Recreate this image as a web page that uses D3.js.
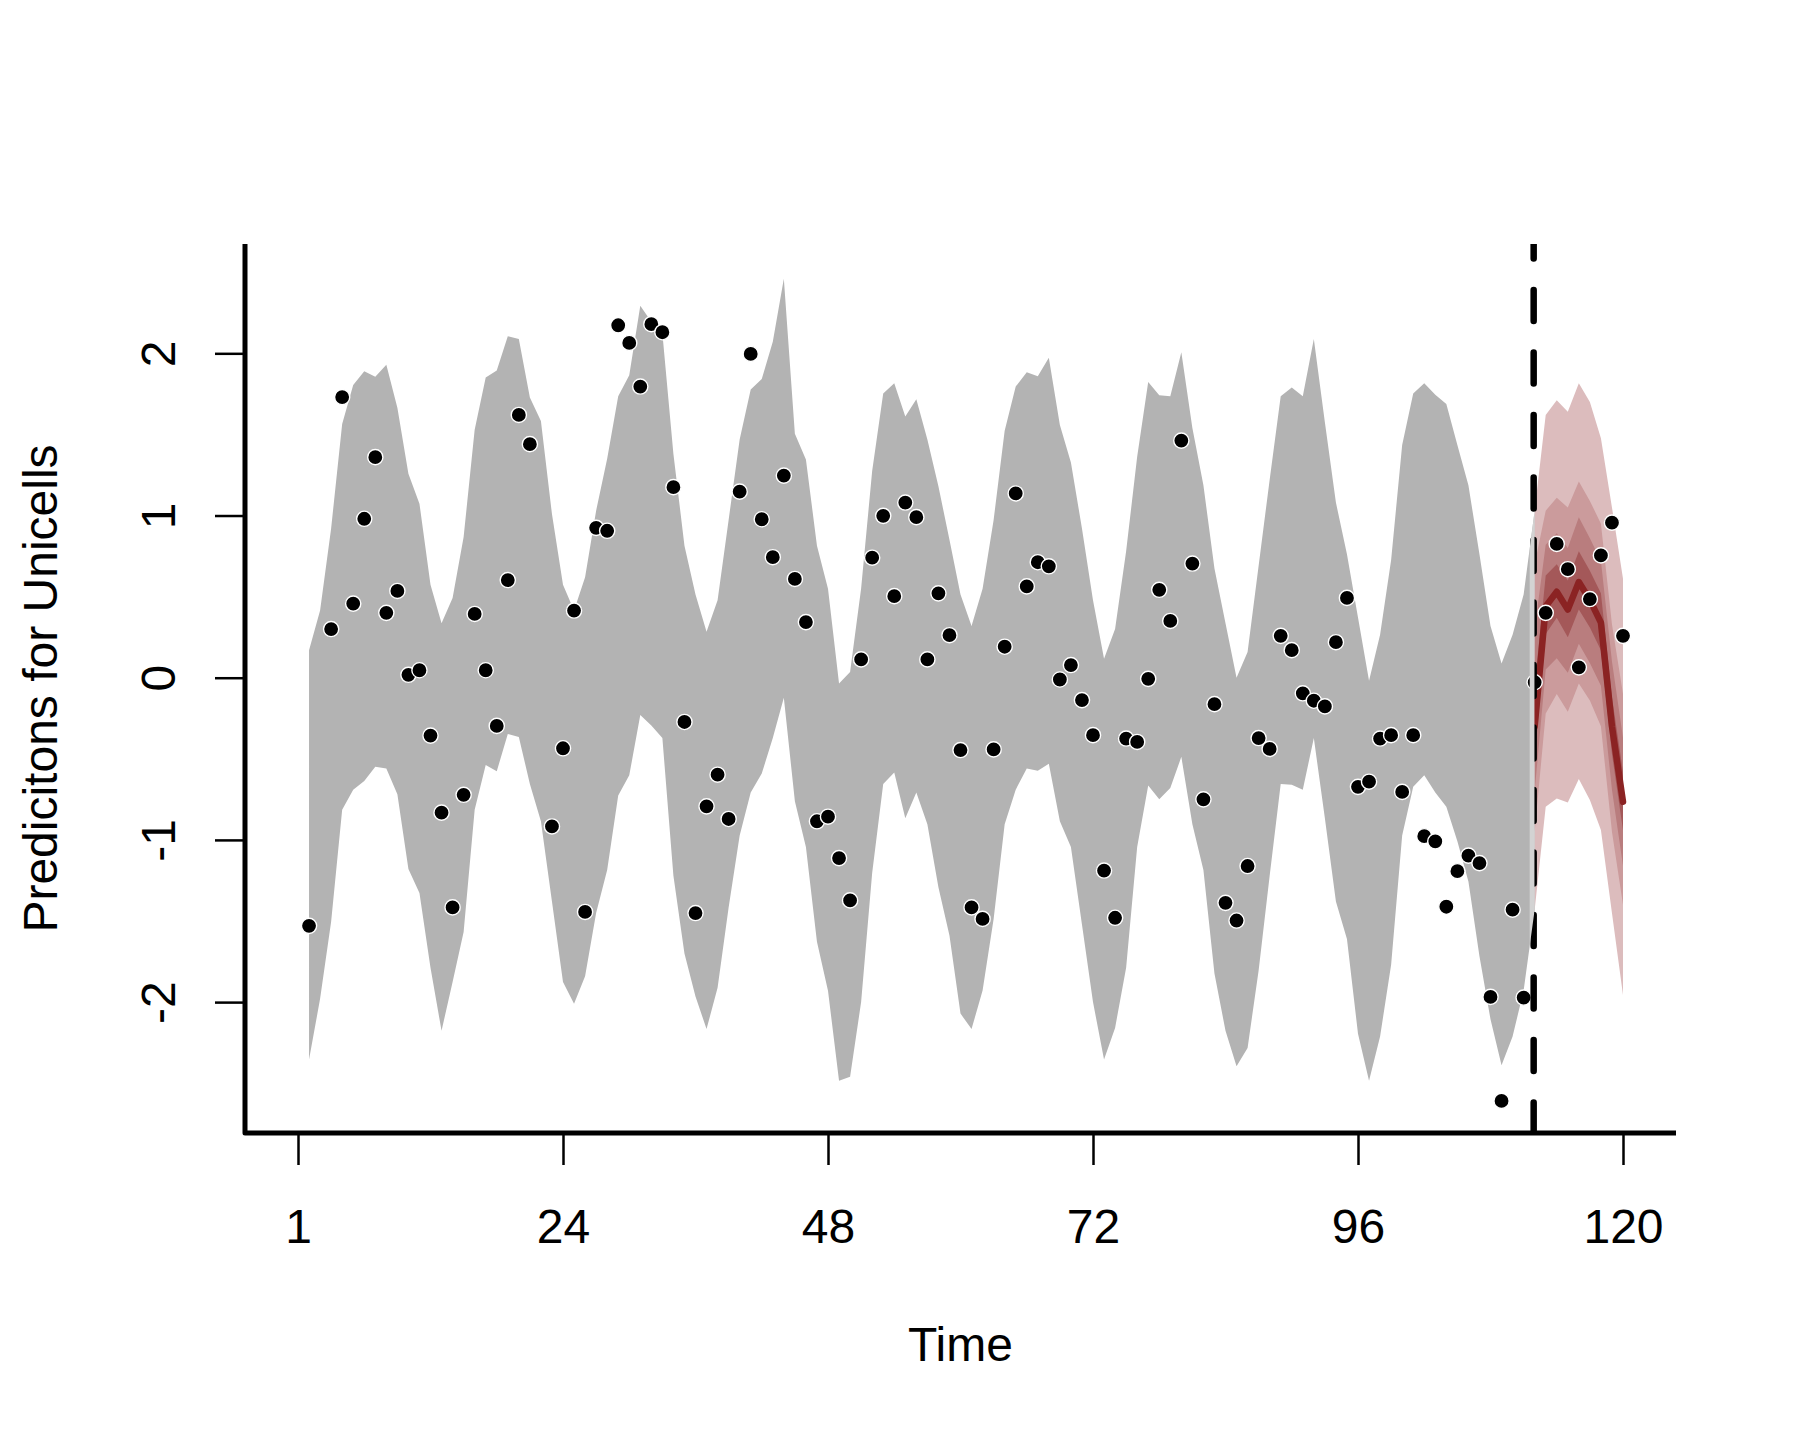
<!DOCTYPE html>
<html>
<head>
<meta charset="utf-8">
<script src="https://cdn.jsdelivr.net/npm/d3@7"></script>
<style>
  html, body { margin: 0; padding: 0; background: #ffffff; }
  svg { display: block; }
  text { font-family: "Liberation Sans", Arial, Helvetica, sans-serif; fill: #000; }
</style>
</head>
<body>
<script>
// ---------------- DATA ----------------
// observed series, time 1..120 (null = missing)
const observed = [
  -1.53, null, 0.30, 1.73, 0.457, 0.98, 1.36, 0.40, 0.535, 0.018,
  0.046, -0.357, -0.832, -1.416, -0.722, 0.393, 0.046, -0.297, 0.602, 1.62,
  1.44, null, -0.917, -0.435, 0.414, -1.444, 0.924, 0.906, 2.173, 2.064,
  1.795, 2.18, 2.13, 1.175, -0.273, -1.451, -0.793, -0.598, -0.871, 1.147,
  1.996, 0.977, 0.743, 1.246, 0.609, 0.343, -0.885, -0.857, -1.112, -1.373,
  0.113, 0.74, 0.998, 0.503, 1.08, 0.99, 0.113, 0.52, 0.262, -0.446,
  -1.416, -1.487, -0.442, 0.191, 1.136, 0.563, 0.712, 0.687, -0.011, 0.078,
  -0.138, -0.354, -1.189, -1.48, -0.375, -0.396, -0.007, 0.542, 0.35, 1.462,
  0.704, -0.75, -0.163, -1.388, -1.497, -1.161, -0.372, -0.439, 0.258, 0.17,
  -0.096, -0.142, -0.177, 0.219, 0.492, -0.673, -0.641, -0.375, -0.354, -0.704,
  -0.354, -0.977, -1.009, -1.412, -1.193, -1.097, -1.143, -1.968, -2.609, -1.43,
  -1.972, -0.028, 0.40, 0.825, 0.669, 0.064, 0.485, 0.754, 0.956, 0.258
];

// fitted credible band, time 1..112
const bandUpper = [
  0.17, 0.414, 0.92, 1.565, 1.805, 1.89, 1.855, 1.93, 1.664, 1.257,
  1.073, 0.573, 0.336, 0.492, 0.867, 1.529, 1.851, 1.894, 2.106, 2.088,
  1.727, 1.582, 1.009, 0.573, 0.414, 0.62, 1.03, 1.35, 1.735, 1.865,
  2.294, 2.195, 2.124, 1.38, 0.814, 0.513, 0.283, 0.478, 0.973, 1.469,
  1.777, 1.841, 2.071, 2.46, 1.504, 1.345, 0.814, 0.549, -0.035, 0.035,
  0.55, 1.274, 1.752, 1.816, 1.61, 1.717, 1.469, 1.18, 0.85, 0.513,
  0.319, 0.549, 0.973, 1.522, 1.795, 1.883, 1.858, 1.972, 1.558, 1.327,
  0.92, 0.478, 0.117, 0.301, 0.779, 1.363, 1.823, 1.742, 1.735, 2.007,
  1.54, 1.186, 0.673, 0.336, 0.0, 0.159, 0.69, 1.221, 1.735, 1.79,
  1.735, 2.088, 1.575, 1.08, 0.761, 0.372, -0.018, 0.265, 0.726, 1.434,
  1.752, 1.816, 1.745, 1.688, 1.434, 1.186, 0.761, 0.319, 0.088, 0.265,
  0.513, 1.03
];
const bandLower = [
  -2.354, -1.98, -1.504, -0.814, -0.69, -0.637, -0.549, -0.559, -0.719, -1.179,
  -1.327, -1.788, -2.177, -1.876, -1.568, -0.814, -0.538, -0.577, -0.347, -0.365,
  -0.655, -0.885, -1.38, -1.876, -2.01, -1.841, -1.45, -1.186, -0.726, -0.602,
  -0.23, -0.294, -0.372, -1.221, -1.7, -1.965, -2.166, -1.912, -1.416, -0.973,
  -0.708, -0.591, -0.372, -0.124, -0.761, -1.044, -1.628, -1.93, -2.485, -2.46,
  -2.0, -1.204, -0.655, -0.584, -0.867, -0.708, -0.903, -1.292, -1.59, -2.071,
  -2.166, -1.929, -1.487, -0.903, -0.69, -0.559, -0.573, -0.531, -0.885, -1.044,
  -1.522, -2.0, -2.354, -2.159, -1.788, -1.044, -0.665, -0.75, -0.68, -0.488,
  -0.903, -1.186, -1.823, -2.177, -2.396, -2.283, -1.805, -1.221, -0.655, -0.66,
  -0.69, -0.372, -0.867, -1.38, -1.611, -2.195, -2.485, -2.212, -1.77, -0.973,
  -0.673, -0.602, -0.708, -0.796, -1.009, -1.257, -1.717, -2.106, -2.389, -2.212,
  -1.929, -1.43
];

// forecast, time 112..120
const fcTime   = [112, 113, 114, 115, 116, 117, 118, 119, 120];
const fcMedian = [-0.30, 0.44, 0.53, 0.42, 0.59, 0.48, 0.34, -0.30, -0.765];
const fcOuterUpper = [1.03, 1.62, 1.71, 1.64, 1.815, 1.70, 1.476, 1.05, 0.61];
const fcOuterLower = [-1.43, -0.795, -0.744, -0.77, -0.625, -0.754, -0.939, -1.45, -1.956];
const fcMidUpper   = [0.70, 1.03, 1.11, 1.05, 1.21, 1.09, 0.95, 0.33, -0.10];
const fcMidLower   = [-0.95, -0.22, -0.10, -0.21, -0.035, -0.14, -0.30, -0.95, -1.40];
const fcInnerUpper = [0.30, 0.82, 0.89, 0.80, 0.99, 0.86, 0.72, 0.10, -0.37];
const fcInnerLower = [-0.70, 0.05, 0.12, 0.03, 0.21, 0.09, -0.05, -0.69, -1.16];
const fcCoreUpper  = [-0.05, 0.63, 0.70, 0.60, 0.78, 0.66, 0.52, -0.12, -0.58];
const fcCoreLower  = [-0.50, 0.27, 0.37, 0.25, 0.42, 0.31, 0.17, -0.47, -0.94];

const forecastStart = 112;

const xTickAt = [0, 24, 48, 72, 96, 120];
const xTickLabels = ["1", "24", "48", "72", "96", "120"];
const yTicks = [-2, -1, 0, 1, 2];

const xTitle = "Time";
const yTitle = "Predicitons for Unicells";

// ---------------- DRAW ----------------
const W = 1800, H = 1440;
const plot = { left: 245, right: 1676, top: 244, bottom: 1133 };

const svg = d3.select("body").append("svg")
  .attr("width", W).attr("height", H)
  .attr("viewBox", `0 0 ${W} ${H}`);
svg.append("rect").attr("width", W).attr("height", H).attr("fill", "#ffffff");

const x = d3.scaleLinear().domain([-4.8, 124.8]).range([plot.left, plot.right]);
const y = d3.scaleLinear().domain([-2.807, 2.674]).range([plot.bottom, plot.top]);

const time = observed.map((_, i) => i + 1);

svg.append("clipPath").attr("id", "plotclip")
  .append("rect")
  .attr("x", plot.left).attr("y", plot.top)
  .attr("width", plot.right - plot.left).attr("height", plot.bottom - plot.top);

const band = bandUpper.map((u, i) => ({ t: i + 1, u, l: bandLower[i] }));
const bandArea = d3.area()
  .x(d => x(d.t)).y0(d => y(d.l)).y1(d => y(d.u))
  .curve(d3.curveLinear);

const g = svg.append("g").attr("clip-path", "url(#plotclip)");

g.append("path").datum(band)
  .attr("d", bandArea)
  .attr("fill", "#b3b3b3");

// light strip just before forecast start
svg.append("clipPath").attr("id", "stripclip")
  .append("rect")
  .attr("x", x(forecastStart - 0.45)).attr("y", plot.top)
  .attr("width", x(forecastStart) - x(forecastStart - 0.45)).attr("height", plot.bottom - plot.top);
svg.append("path").datum(band)
  .attr("clip-path", "url(#stripclip)")
  .attr("d", bandArea)
  .attr("fill", "#d3d3d3");

// forecast bands
const fcLayers = [
  { up: fcOuterUpper, lo: fcOuterLower, color: "#dcbcbd" },
  { up: fcMidUpper,   lo: fcMidLower,   color: "#cb9b9c" },
  { up: fcInnerUpper, lo: fcInnerLower, color: "#b97d7e" },
  { up: fcCoreUpper,  lo: fcCoreLower,  color: "#a45859" }
];
fcLayers.forEach(layer => {
  const data = fcTime.map((t, i) => ({ t, u: layer.up[i], l: layer.lo[i] }));
  g.append("path").datum(data)
    .attr("d", bandArea)
    .attr("fill", layer.color);
});

g.append("path")
  .datum(fcTime.map((t, i) => ({ t, v: fcMedian[i] })))
  .attr("d", d3.line().x(d => x(d.t)).y(d => y(d.v)))
  .attr("fill", "none")
  .attr("stroke", "#8b2323")
  .attr("stroke-width", 6.5)
  .attr("stroke-linejoin", "round")
  .attr("stroke-linecap", "round");

// observed points
g.append("g").selectAll("circle")
  .data(time.map((t, i) => ({ t, v: observed[i] })).filter(d => d.v !== null))
  .join("circle")
  .attr("cx", d => x(d.t))
  .attr("cy", d => y(d.v))
  .attr("r", 7.6)
  .attr("fill", "#000")
  .attr("stroke", "#fff")
  .attr("stroke-width", 1.4);

// dashed forecast boundary
g.append("line")
  .attr("x1", x(forecastStart) - 1).attr("x2", x(forecastStart) - 1)
  .attr("y1", plot.top).attr("y2", plot.bottom)
  .attr("stroke", "#000")
  .attr("stroke-width", 6.5)
  .attr("stroke-linecap", "round")
  .attr("stroke-dasharray", "31,31.5")
  .attr("stroke-dashoffset", 16.5);

// axes
const fontSize = 48;
const xAxis = d3.axisBottom(x)
  .tickValues(xTickAt)
  .tickFormat((d, i) => xTickLabels[i])
  .tickSize(32)
  .tickPadding(44);
const gx = svg.append("g").attr("transform", `translate(0,${plot.bottom})`).call(xAxis);
gx.select(".domain").remove();
gx.selectAll(".tick line").attr("stroke", "#000").attr("stroke-width", 2.5);
gx.selectAll(".tick text")
  .attr("font-size", fontSize)
  .attr("font-family", "Liberation Sans, Arial, sans-serif")
  .attr("fill", "#000");

const yAxis = d3.axisLeft(y).tickValues(yTicks).tickFormat(d3.format("d")).tickSize(30);
const gy = svg.append("g").attr("transform", `translate(${plot.left},0)`).call(yAxis);
gy.select(".domain").remove();
gy.selectAll(".tick line").attr("stroke", "#000").attr("stroke-width", 2.5);
gy.selectAll(".tick text")
  .attr("x", null).attr("dy", null).attr("y", null)
  .attr("transform", "translate(-70,0) rotate(-90)")
  .attr("text-anchor", "middle")
  .attr("font-size", fontSize)
  .attr("font-family", "Liberation Sans, Arial, sans-serif")
  .attr("fill", "#000")
  .text(d => d < 0 ? "-" + Math.abs(d) : String(d));

// L-shaped box
svg.append("path")
  .attr("d", `M${plot.left},${plot.top} L${plot.left},${plot.bottom} L${plot.right},${plot.bottom}`)
  .attr("fill", "none")
  .attr("stroke", "#000")
  .attr("stroke-width", 5)
  .attr("stroke-linejoin", "round");

// titles
svg.append("text")
  .attr("x", (plot.left + plot.right) / 2)
  .attr("y", 1361)
  .attr("text-anchor", "middle")
  .attr("font-size", fontSize)
  .text(xTitle);

svg.append("text")
  .attr("transform", `translate(57,${(plot.top + plot.bottom) / 2}) rotate(-90)`)
  .attr("text-anchor", "middle")
  .attr("font-size", fontSize)
  .text(yTitle);
</script>
</body>
</html>
